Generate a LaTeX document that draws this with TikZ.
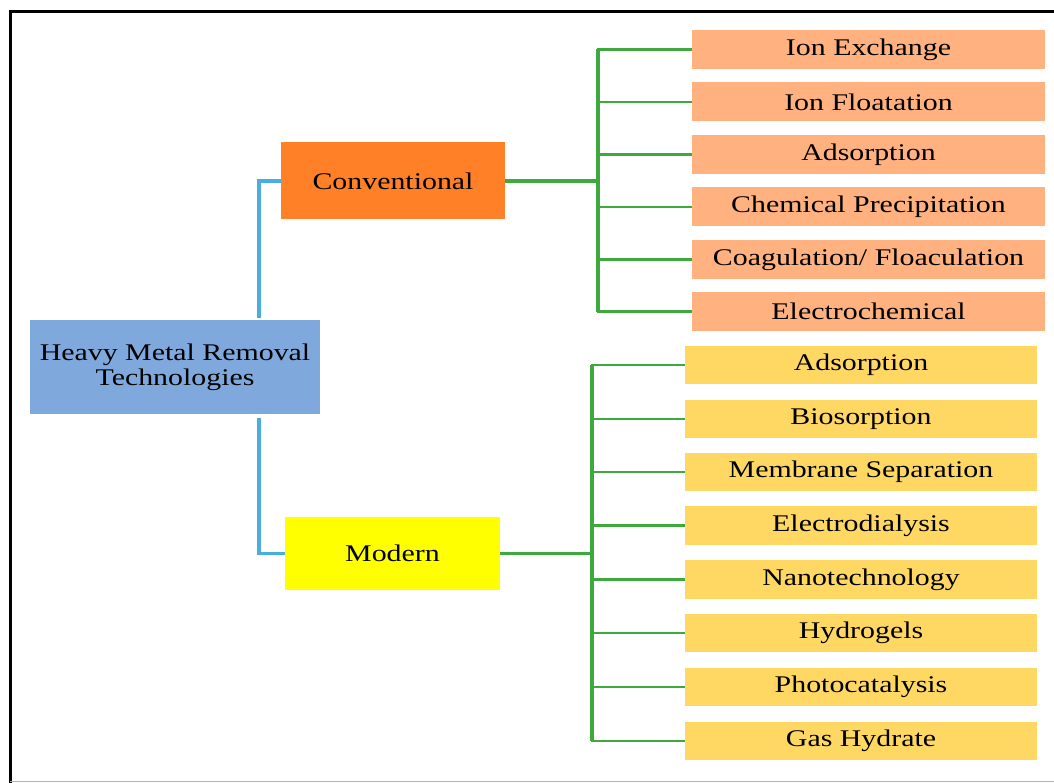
\documentclass[tikz,border=0pt]{standalone}
\usepackage{fontspec}
\setmainfont{Liberation Serif}[FakeStretch=1.25]
\usepackage[svgnames]{xcolor}
\usepackage{tikz}
\usetikzlibrary{backgrounds}
\definecolor{rootblue}{RGB}{127,169,221}
\definecolor{convorange}{RGB}{255,128,38}
\definecolor{convlight}{RGB}{255,178,128}
\definecolor{modyellow}{RGB}{255,255,0}
\definecolor{modlight}{RGB}{255,216,100}
\definecolor{linkblue}{RGB}{72,174,224}
\definecolor{linkgreen}{RGB}{62,170,62}
\pgfdeclarelayer{edgelayer}
\pgfdeclarelayer{nodelayer}
\pgfsetlayers{edgelayer,nodelayer,main}
\tikzstyle{none}=[inner sep=0pt]
\tikzstyle{root}=[rectangle,fill=rootblue,minimum width=7.25cm,minimum height=2.35cm,align=center,font=\fontsize{17}{17.5}\selectfont]
\tikzstyle{conv}=[rectangle,fill=convorange,minimum width=5.6cm,minimum height=1.925cm,font=\fontsize{17}{18}\selectfont]
\tikzstyle{modern}=[rectangle,fill=modyellow,minimum width=5.375cm,minimum height=1.825cm,font=\fontsize{17}{18}\selectfont]
\tikzstyle{convitem}=[rectangle,fill=convlight,minimum width=8.825cm,minimum height=0.975cm,inner sep=0pt,font=\fontsize{17}{18}\selectfont]
\tikzstyle{moditem}=[rectangle,fill=modlight,minimum width=8.8cm,minimum height=0.97cm,inner sep=0pt,font=\fontsize{17}{18}\selectfont]
\tikzstyle{blueline}=[-,draw=linkblue,line width=2.4pt]
\tikzstyle{trunk}=[-,draw=linkgreen,line width=2.4pt]
\tikzstyle{branch}=[-,draw=linkgreen,line width=1.7pt]
\tikzstyle{frame}=[-,draw=black,line width=2.4pt]
\tikzstyle{baseline}=[-,draw=Gray!60,line width=0.7pt]

\begin{document}
\begin{tikzpicture}
	\useasboundingbox (0,0) rectangle (26.35,-19.575);
	\begin{pgfonlayer}{nodelayer}
		\node [style=root] (0) at (4.375, -9.175) {Heavy Metal Removal\\Technologies};
		\node [style=conv] (1) at (9.825, -4.525) {Conventional};
		\node [style=modern] (2) at (9.8125, -13.8375) {Modern};
		\node [style=convitem] (3) at (21.7125, -1.2375) {Ion Exchange};
		\node [style=convitem] (4) at (21.7125, -2.55) {Ion Floatation};
		\node [style=convitem] (5) at (21.7125, -3.8625) {Adsorption};
		\node [style=convitem] (6) at (21.7125, -5.175) {Chemical Precipitation};
		\node [style=convitem] (7) at (21.7125, -6.4875) {Coagulation/ Floaculation};
		\node [style=convitem] (8) at (21.7125, -7.7875) {Electrochemical};
		\node [style=moditem] (9) at (21.525, -9.125) {Adsorption};
		\node [style=moditem] (10) at (21.525, -10.475) {Biosorption};
		\node [style=moditem] (11) at (21.525, -11.8) {Membrane Separation};
		\node [style=moditem] (12) at (21.525, -13.1375) {Electrodialysis};
		\node [style=moditem] (13) at (21.525, -14.4875) {Nanotechnology};
		\node [style=moditem] (14) at (21.525, -15.825) {Hydrogels};
		\node [style=moditem] (15) at (21.525, -17.175) {Photocatalysis};
		\node [style=moditem] (16) at (21.525, -18.525) {Gas Hydrate};
		\node [style=none] (17) at (6.475, -7.95) {};
		\node [style=none] (18) at (6.475, -10.45) {};
		\node [style=none] (19) at (14.95, -4.525) {};
		\node [style=none] (20) at (14.95, -1.2375) {};
		\node [style=none] (21) at (14.95, -7.7875) {};
		\node [style=none] (22) at (14.8, -13.8375) {};
		\node [style=none] (23) at (14.8, -9.125) {};
		\node [style=none] (24) at (14.8, -18.525) {};
		\node [style=none] (25) at (0.26, -19.575) {};
		\node [style=none] (26) at (0.26, -0.29) {};
		\node [style=none] (27) at (26.35, -0.29) {};
		\node [style=none] (28) at (0.26, -19.525) {};
		\node [style=none] (29) at (26.35, -19.525) {};
	\end{pgfonlayer}
	\begin{pgfonlayer}{edgelayer}
		\draw [style=frame] (25.center) to (26.center) to (27.center);
		\draw [style=baseline] (28.center) to (29.center);
		\draw [style=blueline] (17.center) |- (1);
		\draw [style=blueline] (18.center) |- (2);
		\draw [style=trunk] (1) to (19.center);
		\draw [style=trunk] (20.center) to (21.center);
		\draw [style=branch] (19.center) |- (3);
		\draw [style=branch] (19.center) |- (4);
		\draw [style=branch] (19.center) |- (5);
		\draw [style=branch] (19.center) |- (6);
		\draw [style=branch] (19.center) |- (7);
		\draw [style=branch] (19.center) |- (8);
		\draw [style=trunk] (2) to (22.center);
		\draw [style=trunk] (23.center) to (24.center);
		\draw [style=branch] (22.center) |- (9);
		\draw [style=branch] (22.center) |- (10);
		\draw [style=branch] (22.center) |- (11);
		\draw [style=branch] (22.center) |- (12);
		\draw [style=branch] (22.center) |- (13);
		\draw [style=branch] (22.center) |- (14);
		\draw [style=branch] (22.center) |- (15);
		\draw [style=branch] (22.center) |- (16);
	\end{pgfonlayer}
\end{tikzpicture}
\end{document}
